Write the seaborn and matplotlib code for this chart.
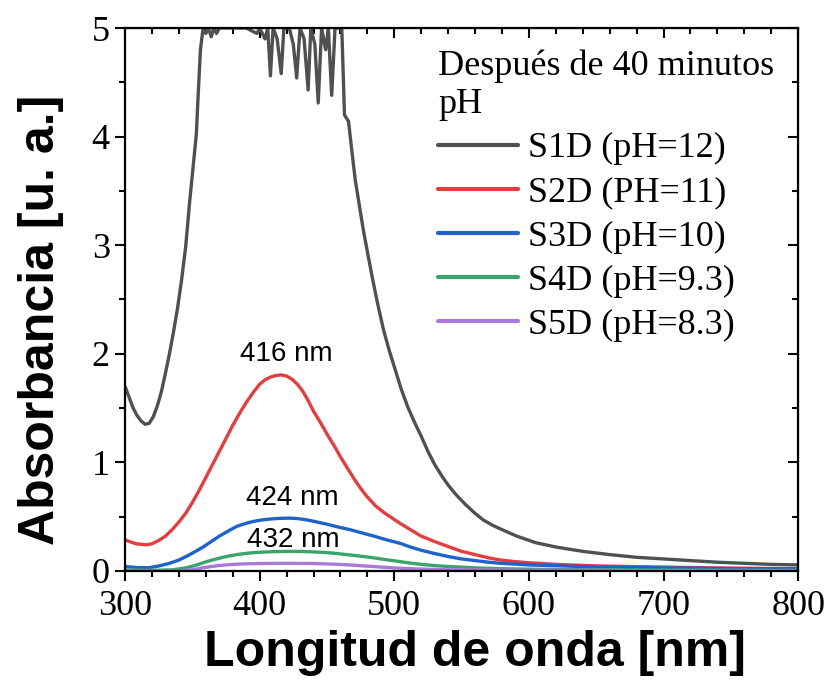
import numpy as np
import pandas as pd
import seaborn as sns
from matplotlib import pyplot as plt
from matplotlib.ticker import MultipleLocator

# spectra (wavelength in nm, absorbance in a.u.)
s1d_nm = [300, 303, 306, 309, 312, 315, 318, 321, 324, 327, 330, 333, 336, 339, 342, 345, 348, 350,
          352, 353, 354, 356, 358, 360, 362, 364, 366, 368, 370, 375, 380, 390, 398, 400, 404, 406,
          408, 410, 413, 416, 418, 422, 425, 427.5, 430, 433, 436, 438, 441, 443.5, 446, 449, 451,
          453.5, 456, 459, 461, 463, 466, 468, 471, 474, 477, 480, 484, 488, 492, 496, 500, 505,
          510, 515, 520, 525, 530, 535, 540, 546, 553, 560, 566, 573, 580, 591, 605, 620, 640,
          660, 680, 700, 720, 740, 760, 780, 800]
s1d_abs = [1.70, 1.60, 1.50, 1.43, 1.38, 1.35, 1.36, 1.42, 1.52, 1.65, 1.82, 2.00, 2.20, 2.42, 2.68, 2.98, 3.40, 3.65,
           3.90, 4.03, 4.30, 4.80, 5.0, 4.95, 5.0, 4.92, 5.0, 4.95, 5.0, 5.0, 5.0, 5.0, 4.95, 5.0, 4.90, 5.0,
           4.56, 5.0, 4.90, 4.58, 5.0, 5.0, 4.85, 4.54, 5.0, 4.90, 4.43, 5.0, 4.85, 4.31, 5.0, 4.80, 5.0,
           4.38, 5.0, 5.0, 5.0, 4.20, 4.14, 3.92, 3.60, 3.37, 3.14, 2.94, 2.68, 2.44, 2.22, 2.04, 1.88, 1.68,
           1.51, 1.37, 1.24, 1.10, 0.98, 0.88, 0.79, 0.70, 0.61, 0.53, 0.47, 0.42, 0.38, 0.32, 0.26, 0.22, 0.18,
           0.15, 0.125, 0.11, 0.095, 0.08, 0.07, 0.06, 0.055]

s2d_nm = [300, 308, 316, 320, 325, 330, 335, 340, 345, 350, 355, 360, 365, 370, 375, 380, 385, 390,
          395, 400, 404, 408, 412, 416, 420, 424, 428, 432, 436, 440, 445, 450, 455, 460, 465, 470,
          475, 480, 486, 492, 498, 504, 512, 520, 530, 541, 550, 560, 570, 579, 590, 600, 620, 653,
          700, 750, 800]
s2d_abs = [0.285, 0.25, 0.24, 0.25, 0.28, 0.32, 0.38, 0.45, 0.53, 0.63, 0.74, 0.86, 0.98, 1.10, 1.22, 1.34, 1.45, 1.55,
           1.64, 1.72, 1.76, 1.785, 1.80, 1.805, 1.795, 1.765, 1.72, 1.655, 1.57, 1.47, 1.37, 1.26, 1.16, 1.05, 0.95, 0.85,
           0.76, 0.68, 0.60, 0.54, 0.49, 0.44, 0.38, 0.32, 0.27, 0.22, 0.18, 0.15, 0.12, 0.10, 0.085, 0.075, 0.06, 0.045,
           0.035, 0.025, 0.02]

s3d_nm = [300, 310, 318, 325, 333, 340, 345, 351, 358, 364, 370, 377, 383, 389, 395, 402, 408, 415,
          422, 428, 435, 442, 450, 458, 467, 476, 485, 494, 504, 512, 520, 530, 541, 550, 560, 570,
          579, 600, 653, 700, 750, 800]
s3d_abs = [0.04, 0.03, 0.03, 0.045, 0.07, 0.10, 0.13, 0.17, 0.22, 0.27, 0.32, 0.37, 0.41, 0.435, 0.455, 0.47, 0.478, 0.484,
           0.486, 0.482, 0.47, 0.452, 0.43, 0.405, 0.38, 0.35, 0.32, 0.287, 0.255, 0.22, 0.19, 0.16, 0.13, 0.11, 0.095, 0.08,
           0.07, 0.055, 0.035, 0.028, 0.022, 0.018]

s4d_nm = [300, 320, 335, 341, 346, 352, 358, 364, 371, 377, 383, 389, 395, 402, 410, 418, 425, 432,
          440, 448, 455, 461, 467, 476, 485, 494, 504, 512, 520, 530, 541, 560, 578, 620, 700, 800]
s4d_abs = [0.01, 0.005, 0.01, 0.02, 0.03, 0.05, 0.075, 0.098, 0.12, 0.137, 0.15, 0.16, 0.168, 0.173, 0.177, 0.179, 0.18, 0.179,
           0.175, 0.17, 0.163, 0.155, 0.147, 0.134, 0.12, 0.103, 0.086, 0.072, 0.06, 0.049, 0.04, 0.028, 0.02, 0.012, 0.008, 0.005]

s5d_nm = [300, 330, 340, 346, 352, 358, 364, 370, 378, 385, 392, 400, 420, 440, 455, 467, 476, 485,
          494, 504, 517, 530, 560, 620, 700, 800]
s5d_abs = [0.0, -0.005, 0.0, 0.005, 0.015, 0.03, 0.04, 0.05, 0.058, 0.063, 0.066, 0.068, 0.07, 0.068, 0.062, 0.055, 0.047, 0.04,
           0.032, 0.025, 0.018, 0.013, 0.008, 0.004, 0.002, 0.0]

labels = ["S1D (pH=12)", "S2D (PH=11)", "S3D (pH=10)", "S4D (pH=9.3)", "S5D (pH=8.3)"]
colors = ["#505050", "#e23e3e", "#1f62c9", "#3aa56b", "#a97ad9"]

peak_labels = ["416 nm", "424 nm", "432 nm"]
peak_x = [419.5, 424, 425]
peak_y = [2.0, 0.67, 0.28]

###############################################################################
# long-form table for seaborn
frames = []
for lab, xs, ys in zip(labels,
                       [s1d_nm, s2d_nm, s3d_nm, s4d_nm, s5d_nm],
                       [s1d_abs, s2d_abs, s3d_abs, s4d_abs, s5d_abs]):
    frames.append(pd.DataFrame({"nm": xs, "abs": ys, "muestra": lab}))
spectra = pd.concat(frames, ignore_index=True)

sns.set_style("ticks", {"axes.edgecolor": "black", "text.color": "black",
                        "xtick.color": "black", "ytick.color": "black",
                        "axes.labelcolor": "black"})
plt.rcParams['font.family'] = ['Liberation Serif', 'DejaVu Serif']

fig, ax = plt.subplots(figsize=(8.28, 6.92), dpi=100)
fig.subplots_adjust(left=0.151, right=0.964, top=0.9595, bottom=0.175)

sns.lineplot(data=spectra, x="nm", y="abs", hue="muestra", hue_order=labels,
             palette=dict(zip(labels, colors)), estimator=None, sort=False,
             linewidth=2.4, ax=ax)

ax.set_xlim(300, 800)
ax.set_ylim(0, 5)
ax.xaxis.set_major_locator(MultipleLocator(100))
ax.xaxis.set_minor_locator(MultipleLocator(20))
ax.yaxis.set_major_locator(MultipleLocator(1))
ax.yaxis.set_minor_locator(MultipleLocator(0.5))

for side in ax.spines.values():
    side.set_linewidth(1.6)
ax.tick_params(which="both", direction="out", width=1.5, labelsize=26, top=False, right=False)
ax.tick_params(which="major", length=7, pad=4)
ax.tick_params(axis="x", which="major", pad=7)
ax.tick_params(which="minor", length=4)

# mirrored ticks on top/right pointing inward
axt = ax.secondary_xaxis("top")
axt.xaxis.set_major_locator(MultipleLocator(100))
axt.xaxis.set_minor_locator(MultipleLocator(20))
axt.tick_params(which="both", direction="in", width=1.5, labeltop=False)
axt.tick_params(which="major", length=7)
axt.tick_params(which="minor", length=4)
axr = ax.secondary_yaxis("right")
axr.yaxis.set_major_locator(MultipleLocator(1))
axr.yaxis.set_minor_locator(MultipleLocator(0.5))
axr.tick_params(which="both", direction="in", width=1.5, labelright=False)
axr.tick_params(which="major", length=7)
axr.tick_params(which="minor", length=4)

ax.set_xlabel("Longitud de onda [nm]", family="Liberation Sans", weight="bold", fontsize=36)
ax.set_ylabel("Absorbancia [u. a.]", family="Liberation Sans", weight="bold", fontsize=36)
ax.xaxis.set_label_coords(0.52, -0.108)
ax.yaxis.set_label_coords(-0.09, 0.462)

for txt, px, py in zip(peak_labels, peak_x, peak_y):
    ax.text(px, py, txt, ha="center", va="center", family="Liberation Sans", fontsize=20)

leg = ax.legend(title="Después de 40 minutos\npH", loc="upper left", bbox_to_anchor=(0.449, 0.98),
                frameon=False, fontsize=26, title_fontsize=26, alignment="left",
                handlelength=2.2, handletextpad=0.3, labelspacing=0.3, borderpad=0.3,
                borderaxespad=0)
for line in leg.get_lines():
    line.set_linewidth(3)

fig.savefig("out.png", dpi=100)
